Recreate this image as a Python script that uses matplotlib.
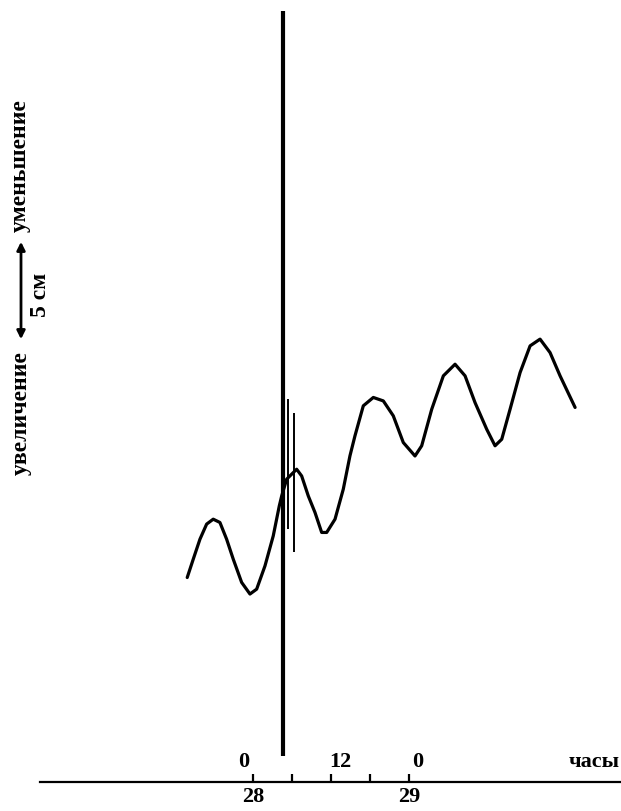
import matplotlib
matplotlib.use('Agg')
import matplotlib.pyplot as plt

# hours from 0:00 of day 28, level change in cm (up = decrease)
hours = [-10.11, -9.18, -8.15, -7.12, -6.11, -5.08, -4.05, -3.03, -1.74, -0.46,
         0.57, 1.85, 3.12, 4.05, 4.42, 5.18, 6.72, 7.49, 8.51, 9.54,
         10.57, 11.34, 12.62, 13.89, 14.92, 15.69, 16.97, 18.51, 20.05, 21.58,
         23.12, 24.92, 25.95, 27.49, 29.28, 31.08, 32.62, 34.15, 35.95, 37.23,
         38.26, 39.54, 41.08, 42.62, 44.15, 45.69, 47.23, 49.54]
level = [10.03, 10.93, 11.91, 12.65, 12.89, 12.73, 11.91, 10.93, 9.79, 9.22,
         9.46, 10.60, 12.07, 13.54, 14.03, 14.85, 15.34, 15.01, 14.03, 13.22,
         12.24, 12.24, 12.89, 14.36, 16.0, 16.98, 18.45, 18.86, 18.69, 17.96,
         16.65, 15.99, 16.49, 18.28, 19.92, 20.49, 19.92, 18.61, 17.30, 16.49,
         16.81, 18.28, 20.08, 21.39, 21.72, 21.06, 19.92, 18.37]

# seismic spikes on the record
spike_h = [4.62, 5.38, 6.3]
spike_top = [37.8, 18.77, 18.1]
spike_bot = [1.27, 12.4, 11.3]
spike_w = [3.0, 1.4, 1.4]

tick_h = [0, 6, 12, 18, 24]
day_labels = ['28', '', '', '', '29']
hour_labels = ['0', '12', '0']
hour_label_x = [-1.5, 13.4, 25.4]

plt.rcParams['font.family'] = ['Liberation Serif', 'DejaVu Serif']
plt.rcParams['font.weight'] = 'bold'

fig = plt.figure(figsize=(6.21, 8.12), dpi=100)
ax = fig.add_axes([0, 0, 1, 1])
ax.set_xlim(-38.9, 56.6)
ax.set_ylim(-1.42, 38.4)

ax.plot(hours, level, color='black', lw=2.3, solid_joinstyle='round',
        solid_capstyle='round')
for h, t, b, w in zip(spike_h, spike_top, spike_bot, spike_w):
    ax.vlines(h, b, t, color='black', lw=w)

for s in ['top', 'left', 'right']:
    ax.spines[s].set_visible(False)
ax.spines['bottom'].set_position(('data', 0))
ax.spines['bottom'].set_bounds(-32.8, 56.6)
ax.spines['bottom'].set_linewidth(1.6)
ax.set_yticks([])
ax.set_xticks(tick_h)
ax.set_xticklabels(day_labels, fontsize=16, fontweight='bold')
ax.tick_params(axis='x', direction='in', length=6, width=1.6, pad=3)

for x, lab in zip(hour_label_x, hour_labels):
    ax.text(x, 0.55, lab, ha='center', va='bottom', fontsize=16, fontweight='bold')
ax.text(48.5, 0.55, 'часы', ha='left', va='bottom', fontsize=16, fontweight='bold')

# left side legend: direction of change and scale bar
fig.text(20 / 621, 1 - 166 / 812, 'уменьшение', rotation=90, ha='center', va='center',
         fontsize=17, fontweight='bold')
fig.text(21 / 621, 1 - 413 / 812, 'увеличение', rotation=90, ha='center', va='center',
         fontsize=17, fontweight='bold')
fig.text(41 / 621, 1 - 295 / 812, '5 см', rotation=90, ha='center', va='center',
         fontsize=17, fontweight='bold')
ax.annotate('', xy=(21 / 621, 1 - 240 / 812), xytext=(21 / 621, 1 - 343 / 812),
            xycoords='figure fraction', textcoords='figure fraction',
            arrowprops=dict(arrowstyle='<|-|>', color='black', lw=2, mutation_scale=12))

fig.savefig('out.png', dpi=100)
